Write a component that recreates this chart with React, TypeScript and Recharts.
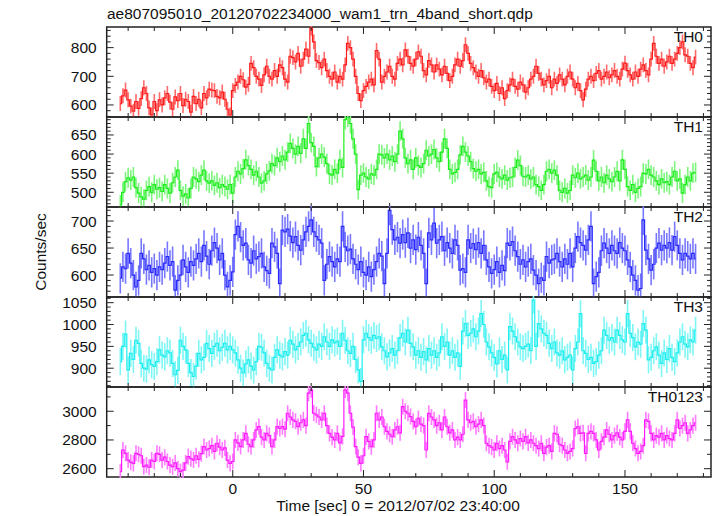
import { ErrorBar, Line, LineChart, ReferenceArea, XAxis, YAxis } from "recharts";

// light curve bins, 1 s wide, first bin at t = -43 s
const T_START = -43;

const th0 = [
  605, 632, 652, 618, 596, 578, 612, 588, 622, 660,
  640, 590, 565, 612, 580, 618, 600, 625, 640, 610,
  585, 628, 615, 640, 598, 620, 612, 575, 630, 605,
  620, 590, 640, 625, 655, 652, 650, 630, 625, 645,
  620, 585, 565, 650, 668, 680, 700, 688, 662, 672,
  745, 730, 700, 690, 668, 705, 735, 700, 690, 720,
  700, 740, 730, 690, 680, 770, 765, 750, 780, 735,
  760, 795, 770, 868, 820, 755, 748, 730, 760, 720,
  700, 690, 715, 680, 700, 690, 740, 815, 800, 760,
  700, 640, 615, 650, 665, 680, 690, 670, 790, 760,
  680, 700, 715, 735, 700, 690, 745, 760, 740, 792,
  770, 745, 735, 760, 785, 770, 720, 705, 755, 740,
  715, 740, 725, 705, 735, 710, 685, 700, 740, 760,
  735, 755, 810, 780, 745, 730, 715, 700, 720, 695,
  680, 690, 665, 650, 675, 640, 660, 622, 650, 670,
  690, 665, 655, 680, 670, 645, 660, 690, 700, 735,
  710, 690, 670, 685, 700, 660, 690, 675, 705, 690,
  670, 700, 715, 690, 660, 675, 650, 618, 655, 690,
  700, 685, 710, 720, 690, 700, 715, 695, 705, 720,
  700, 690, 725, 746, 720, 705, 690, 715, 700, 725,
  740, 720, 705, 760, 815, 770, 745, 760, 735, 750,
  770, 745, 760, 780, 800, 820, 775, 770, 745, 730,
  767,
];

const th1 = [
  467, 500, 528, 538, 532, 540, 512, 498, 488, 482,
  505, 515, 500, 520, 508, 512, 502, 520, 510, 498,
  525, 540, 558, 505, 490, 496, 485, 510, 540, 535,
  528, 545, 558, 530, 524, 530, 518, 525, 512, 520,
  515, 508, 520, 498, 540, 555, 548, 562, 585, 570,
  560, 545, 555, 540, 524, 530, 548, 556, 575, 570,
  590, 580, 595, 585, 605, 628, 615, 600, 620, 602,
  640, 615, 680, 630, 620, 567, 590, 600, 592, 575,
  548, 545, 560, 550, 585, 565, 690, 697, 680, 640,
  600, 507, 545, 550, 540, 535, 548, 545, 560, 600,
  598, 590, 600, 585, 595, 580, 600, 660, 640, 590,
  575, 585, 560, 590, 570, 565, 575, 610, 595, 600,
  612, 590, 580, 605, 640, 615, 560, 548, 552, 560,
  598, 620, 605, 595, 580, 562, 555, 560, 548, 552,
  530, 515, 512, 548, 552, 540, 535, 545, 532, 538,
  540, 565, 584, 570, 542, 540, 545, 535, 540, 520,
  515, 505, 520, 555, 560, 550, 558, 545, 505, 500,
  510, 498, 505, 545, 538, 550, 535, 540, 545, 532,
  540, 584, 555, 530, 540, 525, 545, 535, 528, 540,
  555, 530, 585, 560, 515, 505, 520, 500, 510, 515,
  550, 548, 560, 545, 540, 530, 520, 535, 525, 528,
  520, 540, 555, 530, 535, 498, 520, 540, 530, 550,
  552,
];

const th2 = [
  594, 615, 612, 640, 622, 600, 578, 590, 640, 630,
  610, 618, 605, 612, 600, 615, 610, 622, 634, 618,
  625, 572, 590, 600, 628, 615, 605, 625, 618, 630,
  640, 625, 655, 635, 620, 645, 660, 650, 628, 640,
  600, 578, 590, 606, 675, 690, 670, 655, 659, 628,
  622, 645, 630, 634, 640, 615, 608, 603, 659, 652,
  640, 584, 683, 680, 685, 672, 660, 671, 655, 646,
  665, 680, 690, 702, 680, 671, 665, 659, 590, 620,
  634, 625, 615, 630, 625, 690, 652, 645, 648, 630,
  620, 610, 625, 605, 600, 615, 597, 610, 625, 640,
  635, 584, 640, 720, 684, 665, 670, 659, 675, 660,
  678, 650, 665, 647, 670, 655, 640, 584, 678, 665,
  696, 659, 665, 671, 645, 660, 650, 640, 665, 655,
  609, 612, 605, 665, 650, 658, 647, 660, 640, 655,
  628, 615, 603, 610, 625, 605, 618, 608, 659, 655,
  662, 645, 634, 620, 628, 615, 625, 630, 609, 600,
  584, 595, 590, 634, 622, 628, 630, 640, 625, 615,
  630, 620, 640, 615, 650, 671, 660, 655, 646, 665,
  690, 584, 597, 605, 645, 659, 650, 640, 655, 645,
  640, 660, 650, 645, 628, 615, 600, 590, 572, 575,
  702, 646, 630, 609, 620, 650, 659, 646, 655, 650,
  660, 646, 671, 655, 640, 628, 640, 635, 630, 640,
  630,
];

const th3 = [
  915, 950, 978, 896, 934, 920, 964, 957, 911, 900,
  898, 919, 908, 904, 915, 942, 930, 926, 940, 935,
  911, 885, 895, 964, 950, 942, 911, 890, 881, 905,
  934, 919, 925, 957, 945, 934, 950, 957, 940, 948,
  957, 942, 950, 942, 935, 919, 900, 889, 910, 919,
  905, 896, 915, 950, 948, 935, 911, 900, 896, 925,
  942, 930, 926, 938, 930, 964, 955, 942, 950, 960,
  975, 980, 965, 957, 948, 942, 955, 950, 972, 960,
  950, 965, 958, 962, 950, 980, 964, 940, 934, 950,
  920, 896, 870, 965, 980, 970, 964, 975, 968, 972,
  949, 940, 926, 935, 945, 930, 940, 970, 980, 960,
  987, 957, 949, 930, 940, 925, 938, 919, 945, 930,
  940, 925, 935, 972, 950, 960, 930, 940, 925, 935,
  904, 985, 1002, 975, 980, 990, 972, 985, 1025, 1000,
  960, 949, 935, 925, 910, 940, 920, 930, 896, 995,
  985, 972, 960, 949, 945, 950, 955, 940, 1056, 950,
  1002, 990, 980, 975, 957, 945, 960, 935, 930, 940,
  919, 925, 930, 896, 945, 960, 1025, 940, 934, 920,
  925, 911, 915, 930, 940, 987, 975, 964, 970, 960,
  987, 975, 965, 960, 1025, 980, 970, 949, 960, 955,
  1002, 987, 919, 925, 940, 949, 930, 911, 935, 920,
  945, 925, 915, 935, 960, 972, 955, 949, 965, 960,
  987,
];

const th0123 = [
  2579, 2730, 2707, 2660, 2645, 2637, 2707, 2700, 2690, 2614,
  2625, 2610, 2660, 2650, 2707, 2700, 2660, 2680, 2650, 2625,
  2614, 2640, 2600, 2579, 2590, 2640, 2684, 2670, 2660, 2690,
  2665, 2705, 2754, 2730, 2740, 2760, 2720, 2777, 2750, 2730,
  2745, 2660, 2637, 2650, 2800, 2780, 2754, 2800, 2846, 2770,
  2754, 2800, 2870, 2893, 2820, 2800, 2846, 2830, 2754, 2800,
  2893, 2880, 2893, 2875, 2986, 2960, 2940, 2930, 2893, 2920,
  2940, 2900, 3126, 3150, 2986, 2975, 2960, 2940, 2986, 2900,
  2846, 2820, 2800, 2846, 2780, 2825, 3149, 3126, 2986, 2890,
  2754, 2680, 2637, 2690, 2823, 2790, 2753, 2800, 2986, 2940,
  2960, 2892, 2860, 2840, 2823, 2870, 2892, 2850, 3032, 3000,
  2986, 2963, 2930, 2892, 2950, 2910, 2900, 2730, 2986, 2960,
  2940, 2900, 2920, 2870, 2960, 2892, 2850, 2870, 2800, 2820,
  2800, 2840, 3078, 2940, 2920, 2930, 2892, 2910, 2940, 2900,
  2777, 2760, 2750, 2730, 2777, 2740, 2760, 2730, 2648, 2790,
  2823, 2800, 2777, 2810, 2790, 2823, 2780, 2800, 2777, 2760,
  2740, 2777, 2707, 2750, 2760, 2720, 2846, 2840, 2770, 2760,
  2730, 2707, 2720, 2740, 2880, 2892, 2846, 2850, 2707, 2846,
  2860, 2846, 2800, 2730, 2790, 2820, 2870, 2840, 2800, 2830,
  2850, 2820, 2800, 2860, 2940, 2860, 2777, 2740, 2707, 2720,
  2760, 2940, 2930, 2846, 2800, 2830, 2820, 2846, 2800, 2830,
  2810, 2800, 2846, 2940, 2880, 2900, 2920, 2846, 2870, 2900,
  2920,
];

const xTicks = [-40, -30, -20, -10, 0, 10, 20, 30, 40, 50, 60, 70, 80, 90, 100, 110, 120, 130, 140, 150, 160, 170, 180];
const xLabels = [0, 50, 100, 150];

const th0Ticks = [560, 580, 600, 620, 640, 660, 680, 700, 720, 740, 760, 780, 800, 820, 840, 860];
const th0Labels = [600, 700, 800];
const th1Ticks = [470, 480, 490, 500, 510, 520, 530, 540, 550, 560, 570, 580, 590, 600, 610, 620, 630, 640, 650, 660, 670, 680, 690];
const th1Labels = [500, 550, 600, 650];
const th2Ticks = [560, 570, 580, 590, 600, 610, 620, 630, 640, 650, 660, 670, 680, 690, 700, 710, 720];
const th2Labels = [600, 650, 700];
const th3Ticks = [860, 870, 880, 890, 900, 910, 920, 930, 940, 950, 960, 970, 980, 990, 1000, 1010, 1020, 1030, 1040, 1050, 1060];
const th3Labels = [900, 950, 1000, 1050];
const th0123Ticks = [2600, 2700, 2800, 2900, 3000, 3100];
const th0123Labels = [2600, 2800, 3000];

const W = 717;
const PLOT_LEFT = 106.7;
const PLOT_RIGHT = 711;
const PLOT_W = PLOT_RIGHT - PLOT_LEFT;
const TOP = 27;
const PANEL_H = 90;
const PAD = 12;
const X_AXIS_H = 20;
const Y_AXIS_W = 50;
const CHART_H = PANEL_H + X_AXIS_H + PAD;
const X_DOMAIN: [number, number] = [-48.2, 182.9];
const FONT = "'Liberation Sans', Arial, Helvetica, sans-serif";
const FS = 15.5;
const FRAME = "#222";

// keep error bars inside the frame, but leave room for tick labels
const L = PLOT_LEFT - 1;
const BOT = PAD + PANEL_H + 1;
function clipFor(last: boolean) {
  const top = `0px 0px, ${L}px 0px, ${L}px ${PAD - 1}px, ${W}px ${PAD - 1}px, ${W}px ${BOT}px`;
  if (!last) return `polygon(${top}, ${L}px ${BOT}px, ${L}px ${CHART_H}px, 0px ${CHART_H}px)`;
  return `polygon(${top}, ${L}px ${BOT}px, ${L}px ${BOT + 3}px, ${W}px ${BOT + 3}px, ${W}px ${CHART_H}px, 0px ${CHART_H}px)`;
}

const panels = [
  { name: "TH0", values: th0, err: 26, color: "#ff1a1a", bar: "#ff6b6b", domain: [558, 872], ticks: th0Ticks, labels: th0Labels },
  { name: "TH1", values: th1, err: 26, color: "#1aee1a", bar: "#7df57d", domain: [461.5, 697], ticks: th1Ticks, labels: th1Labels },
  { name: "TH2", values: th2, err: 28, color: "#2a2aff", bar: "#7878ff", domain: [559.3, 726], ticks: th2Ticks, labels: th2Labels },
  { name: "TH3", values: th3, err: 31, color: "#1aeeee", bar: "#7ff5f5", domain: [857, 1063], ticks: th3Ticks, labels: th3Labels },
  { name: "TH0123", values: th0123, err: 56, color: "#ff1aff", bar: "#ff7bff", domain: [2542, 3169], ticks: th0123Ticks, labels: th0123Labels },
];

function makeXTick(showLabel: boolean) {
  return (props: any) => {
    const { x, y, payload } = props;
    const v = payload.value as number;
    const len = v % 50 === 0 ? 7 : 4;
    return (
      <g>
        <line x1={x} x2={x} y1={y} y2={y - len} stroke={FRAME} strokeWidth={1} />
        <line x1={x} x2={x} y1={y - PANEL_H} y2={y - PANEL_H + len} stroke={FRAME} strokeWidth={1} />
        {showLabel && xLabels.includes(v) && (
          <text x={x} y={y + 17} textAnchor="middle" fontSize={FS} fill="#111" fontFamily={FONT}>
            {v}
          </text>
        )}
      </g>
    );
  };
}

function makeYTick(labels: number[]) {
  return (props: any) => {
    const { x, y, payload } = props;
    const v = payload.value as number;
    const major = labels.includes(v);
    const len = major ? 7 : 4;
    return (
      <g>
        <line x1={x} x2={x + len} y1={y} y2={y} stroke={FRAME} strokeWidth={1} />
        <line x1={x + PLOT_W - len} x2={x + PLOT_W} y1={y} y2={y} stroke={FRAME} strokeWidth={1} />
        {major && (
          <text x={x - 10} y={y + 5.5} textAnchor="end" fontSize={FS} fill="#111" fontFamily={FONT}>
            {v}
          </text>
        )}
      </g>
    );
  };
}

function Panel({ p, index, last }: { p: (typeof panels)[number]; index: number; last: boolean }) {
  const data = p.values.map((v, i) => ({ t: T_START + i, v, e: p.err }));
  return (
    <div style={{ position: "absolute", left: 0, top: TOP + index * PANEL_H - PAD, clipPath: clipFor(last) }}>
      <LineChart
        width={W}
        height={CHART_H}
        data={data}
        margin={{ top: PAD, bottom: 0, left: PLOT_LEFT - Y_AXIS_W, right: W - PLOT_RIGHT }}
      >
        <XAxis
          dataKey="t"
          type="number"
          domain={X_DOMAIN}
          allowDataOverflow
          ticks={xTicks}
          interval={0}
          height={X_AXIS_H}
          tickSize={0}
          tickMargin={0}
          tickLine={false}
          axisLine={false}
          tick={makeXTick(last)}
        />
        <YAxis
          type="number"
          domain={p.domain}
          allowDataOverflow
          ticks={p.ticks}
          interval={0}
          width={Y_AXIS_W}
          tickSize={0}
          tickMargin={0}
          tickLine={false}
          axisLine={false}
          tick={makeYTick(p.labels)}
        />
        <Line
          dataKey="v"
          type="step"
          stroke={p.color}
          strokeWidth={1.2}
          dot={false}
          activeDot={false}
          isAnimationActive={false}
        >
          <ErrorBar dataKey="e" width={0} stroke={p.bar} strokeWidth={1.6} direction="y" isAnimationActive={false} />
        </Line>
        <ReferenceArea
          x1={X_DOMAIN[0]}
          x2={X_DOMAIN[1]}
          y1={p.domain[0]}
          y2={p.domain[1]}
          fill="none"
          stroke={FRAME}
          strokeWidth={1.5}
          ifOverflow="visible"
        />
      </LineChart>
      <div
        style={{
          position: "absolute",
          right: W - 703,
          top: PAD + 1,
          fontSize: FS,
          fontFamily: FONT,
          color: "#111",
          lineHeight: "18px",
        }}
      >
        {p.name}
      </div>
    </div>
  );
}

export default function App() {
  return (
    <div style={{ position: "fixed", left: 0, top: 0, width: W, height: 516, background: "#fff", fontFamily: FONT }}>
      <div style={{ position: "absolute", left: 107, top: 5, fontSize: FS, color: "#111", lineHeight: "18px" }}>
        ae807095010_20120702234000_wam1_trn_4band_short.qdp
      </div>
      {panels.map((p, i) => (
        <Panel key={p.name} p={p} index={i} last={i === panels.length - 1} />
      ))}
      <div
        style={{
          position: "absolute",
          left: 41,
          top: 252,
          fontSize: FS,
          color: "#111",
          whiteSpace: "nowrap",
          transform: "translate(-50%, -50%) rotate(-90deg)",
        }}
      >
        Counts/sec
      </div>
      <div
        style={{
          position: "absolute",
          left: 398,
          top: 497,
          fontSize: FS,
          color: "#111",
          whiteSpace: "nowrap",
          lineHeight: "18px",
          transform: "translateX(-50%)",
        }}
      >
        Time [sec] 0 = 2012/07/02 23:40:00
      </div>
    </div>
  );
}
